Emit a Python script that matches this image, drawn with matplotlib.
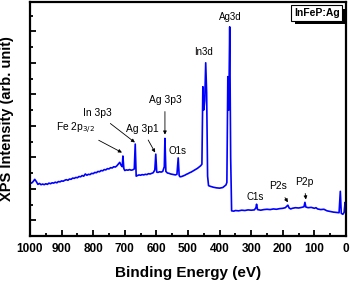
import matplotlib
matplotlib.use("Agg")
import matplotlib.pyplot as plt
from matplotlib.ticker import MultipleLocator, NullFormatter
from matplotlib import patheffects

plt.rcParams['font.family'] = ['Liberation Sans', 'DejaVu Sans']

# (binding energy eV, intensity counts), by region
region_1000_720 = [
    (1000, 22000), (995, 21800), (990, 22300), (985, 23000), (980, 22300),
    (975, 21400), (970, 21700), (965, 21300), (960, 21500), (955, 21300),
    (950, 21600), (945, 21400), (940, 21800), (935, 21600), (930, 21900),
    (925, 21800), (920, 22100), (915, 21900), (910, 22300), (905, 22200),
    (900, 22500), (895, 22400), (890, 22700), (885, 22900), (880, 22700),
    (875, 23100), (870, 23000), (865, 23400), (860, 23300), (855, 23600),
    (850, 23500), (845, 23900), (840, 23800), (835, 24200), (830, 24000),
    (825, 24700), (820, 24300), (815, 24600), (810, 24500), (805, 24900),
    (800, 24800), (795, 25200), (790, 25100), (785, 25500), (780, 25400),
    (775, 25800), (770, 25700), (765, 26100), (760, 26000), (755, 26400),
    (750, 26300), (745, 26700), (740, 26600), (735, 27000), (730, 26900),
    (725, 27300), (720, 27900),
]
region_720_540 = [
    (716, 28400), (712, 27500), (708, 27000), (706, 30400), (703, 26400),
    (700, 25800), (695, 26000), (690, 25900), (685, 26100), (680, 25900),
    (675, 26000), (670, 26300), (667, 34200), (664, 24000), (660, 24200),
    (655, 24400), (650, 24300), (645, 24500), (640, 24400), (635, 24600),
    (630, 24500), (625, 24800), (620, 24700), (615, 24900), (610, 25100),
    (605, 26000), (602, 31000), (599, 25300), (595, 25200), (590, 25400),
    (585, 25300), (580, 25500), (575, 27000), (573, 36000), (570, 25500),
    (565, 25000), (560, 24900), (555, 24700), (550, 24600), (545, 24500),
    (540, 24400),
]
region_540_360 = [
    (535, 24600), (531, 29800), (528, 24200), (525, 23800), (520, 23900),
    (515, 24100), (510, 24300), (505, 24600), (500, 24800), (495, 25100),
    (490, 25300), (485, 25600), (480, 25900), (475, 26200), (470, 26500),
    (465, 26900), (460, 27300), (456, 27800), (453, 52400), (450, 45000),
    (447, 48000), (444, 60000), (441, 50500), (438, 24000), (435, 21000),
    (430, 20800), (420, 20500), (410, 20300), (400, 20200), (390, 20400),
    (385, 20800), (380, 21200), (377, 22000), (374, 55600), (371, 45000),
    (368, 71400), (365, 30000), (362, 13000),
]
region_360_0 = [
    (355, 12900), (350, 13100), (340, 13000), (330, 13200), (320, 13100),
    (310, 13300), (300, 13200), (290, 13300), (285, 14000), (283, 15100),
    (280, 13400), (275, 13300), (270, 13200), (260, 13400), (250, 13500),
    (240, 13400), (230, 13600), (220, 13500), (210, 13700), (200, 13800),
    (192, 14000), (186, 14600), (184, 14800), (180, 13900), (175, 13600),
    (170, 13800), (160, 14000), (150, 13900), (140, 14100), (133, 14300),
    (130, 15700), (127, 14200), (120, 14000), (110, 14100), (100, 13800),
    (95, 14000), (90, 13600), (80, 13400), (70, 13500), (60, 13000),
    (50, 12800), (40, 12600), (30, 12500), (22, 12400), (18, 19200),
    (15, 12200), (10, 11900), (6, 12500), (3, 15700), (0, 14000),
]
spectrum = region_1000_720 + region_720_540 + region_540_360 + region_360_0
energy = [p[0] for p in spectrum]
intensity = [p[1] for p in spectrum]

# peak labels with arrows: (text, text x, text y, arrow tip x, arrow tip y)
arrow_labels = [
    ("Fe 2p$_{3/2}$", 856, 39300, 709, 31500),
    ("In 3p3", 788, 44000, 668, 34700),
    ("Ag 3p1", 646, 39100, 604, 31500),
    ("Ag 3p3", 573, 48300, 573, 37200),
    ("P2s", 215, 20800, 184, 15700),
    ("P2p", 133, 22300, 127, 16600),
]
plain_labels = [
    ("O1s", 532, 32000),
    ("In3d", 452, 63500),
    ("Ag3d", 367, 74600),
    ("C1s", 288, 17300),
]

fig = plt.figure(figsize=(3.5, 2.81), dpi=100)
ax = fig.add_axes([0.0857, 0.160, 0.9029, 0.833])

ax.plot(energy, intensity, color="#0000ff", lw=1.2)

ax.set_xlim(1000, 0)
ax.set_ylim(5000, 79300)
ax.xaxis.set_major_locator(MultipleLocator(100))
ax.xaxis.set_minor_locator(MultipleLocator(50))
ax.yaxis.set_major_locator(MultipleLocator(10000))
ax.yaxis.set_minor_locator(MultipleLocator(5000))
ax.yaxis.set_major_formatter(NullFormatter())
ax.tick_params(which="both", direction="in", width=1.3, top=False, right=False)
ax.tick_params(which="major", length=4.5)
ax.tick_params(which="minor", length=2.5)
ax.tick_params(axis="x", labelsize=8.5, pad=5)
for lab in ax.get_xticklabels():
    lab.set_fontweight("bold")
for sp in ax.spines.values():
    sp.set_linewidth(1.6)

ax.set_xlabel("Binding Energy (eV)", fontsize=11, fontweight="bold", labelpad=8)
ax.set_ylabel("XPS Intensity (arb. unit)", fontsize=10.5, fontweight="bold", labelpad=8)

for text, tx, ty, px, py in arrow_labels:
    ax.annotate(text, xy=(px, py), xytext=(tx, ty), fontsize=7.4,
                ha="center", va="center",
                arrowprops=dict(arrowstyle="-|>", lw=0.6, color="black",
                                mutation_scale=5, shrinkA=3, shrinkB=0))
for text, tx, ty in plain_labels:
    ax.text(tx, ty, text, fontsize=7, ha="center", va="center")

# sample name box with a drop shadow
name = ax.text(0.908, 0.953, "InFeP:Ag", transform=ax.transAxes, fontsize=7.5,
               fontweight="bold", ha="center", va="center",
               bbox=dict(boxstyle="square,pad=0.25", fc="white", ec="black", lw=0.8))
name.get_bbox_patch().set_path_effects([
    patheffects.SimplePatchShadow(offset=(2.5, -2.5), shadow_rgbFace="black", alpha=1.0),
    patheffects.Normal(),
])

fig.savefig("out.png", dpi=100)
